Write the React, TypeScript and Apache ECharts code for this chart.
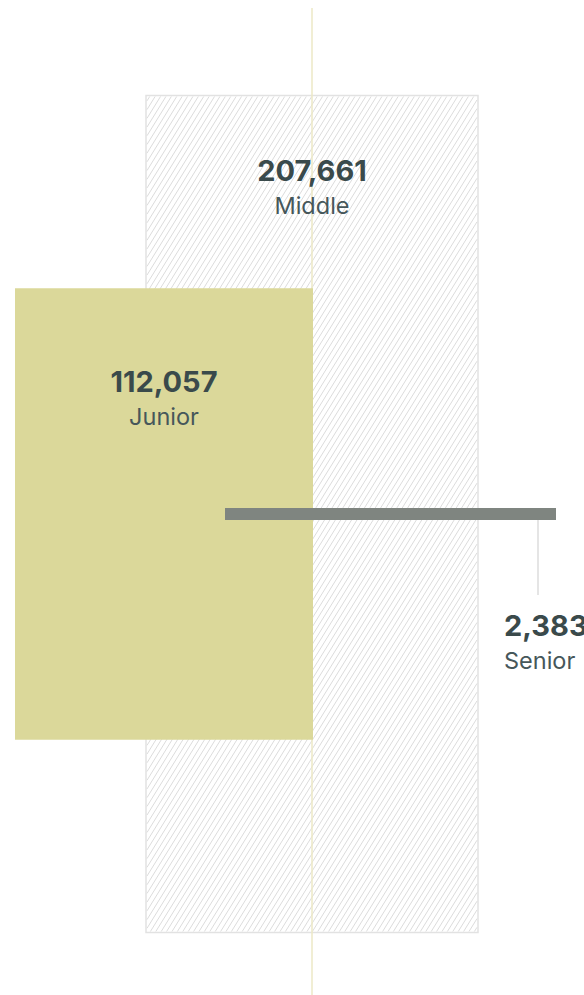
import React, { useEffect, useRef } from "react";
import * as echarts from "echarts";

// Headcount per seniority level
const categories = ["Middle", "Junior", "Senior"];
const headcounts = [207661, 112057, 2383];

// Layout of each block: horizontal span (px), fill, label anchor
const blockSpans: [number, number][] = [
  [146, 478],
  [15, 313],
  [225, 556],
];
const blockFills = ["hatch", "#dbd89a", "#7f8580"];
const labelAnchors = [
  { x: 312, y: 170, align: "center", leader: false },
  { x: 164, y: 381, align: "center", leader: false },
  { x: 504, y: 625, align: "left", leader: true },
];

const VALUE_COLOR = "#3a4a4b";
const NAME_COLOR = "#46575a";
const FONT = "Inter, 'Noto Sans', sans-serif";

function hatchPath(x0: number, y0: number, x1: number, y1: number, k: number, step: number) {
  // lines x + k*y = c, rising to the right
  let d = "";
  const cStart = x0 + k * y0;
  const cEnd = x1 + k * y1;
  for (let c = cStart + step / 2; c < cEnd; c += step) {
    const ya = Math.max(y0, (c - x1) / k);
    const yb = Math.min(y1, (c - x0) / k);
    if (yb <= ya) continue;
    const xa = c - k * ya;
    const xb = c - k * yb;
    d += `M${xa.toFixed(2)} ${ya.toFixed(2)}L${xb.toFixed(2)} ${yb.toFixed(2)}`;
  }
  return d;
}

export default function App() {
  const ref = useRef<HTMLDivElement>(null);

  useEffect(() => {
    if (!ref.current) return;
    const chart = echarts.init(ref.current, undefined, { renderer: "svg" });

    const data = headcounts.map((v, i) => [i, v]);

    const renderItem = (params: any, api: any) => {
      const i = params.dataIndex;
      const value = api.value(1);
      const yTop = api.coord([0, value / 2])[1];
      const yBot = api.coord([0, -value / 2])[1];
      let top = yTop;
      let bot = yBot;
      if (bot - top < 12) {
        const mid = (top + bot) / 2;
        top = mid - 6;
        bot = mid + 6;
      }
      const x0 = api.coord([blockSpans[i][0], 0])[0];
      const x1 = api.coord([blockSpans[i][1], 0])[0];
      const children: any[] = [];
      const fill = blockFills[i];
      if (fill === "hatch") {
        children.push({
          type: "rect",
          shape: { x: x0, y: top, width: x1 - x0, height: bot - top },
          style: { fill: "#ffffff", stroke: "#e2e2e2", lineWidth: 1.5 },
        });
        children.push({
          type: "path",
          shape: { pathData: hatchPath(x0 + 1, top + 1, x1 - 1, bot - 1, 0.62, 5.4) },
          style: { fill: null, stroke: "#dcdcdc", lineWidth: 1 },
        });
        // centre guide through the block
        const cx = (x0 + x1) / 2;
        children.push({
          type: "line",
          shape: { x1: cx, y1: 8, x2: cx, y2: 995 },
          style: { stroke: "#ece8c6", lineWidth: 1.5 },
        });
      } else {
        children.push({
          type: "rect",
          shape: { x: x0, y: top, width: x1 - x0, height: bot - top },
          style: { fill },
        });
      }
      const a = labelAnchors[i];
      if (a.leader) {
        children.push({
          type: "line",
          shape: { x1: 538, y1: bot, x2: 538, y2: 595 },
          style: { stroke: "#dddddd", lineWidth: 1.5 },
        });
      }
      children.push({
        type: "text",
        z2: 10,
        style: {
          x: a.x,
          y: a.y,
          text: headcounts[i].toLocaleString("en-US"),
          fill: VALUE_COLOR,
          font: `700 29px ${FONT}`,
          align: a.align,
          verticalAlign: "middle",
        },
      });
      children.push({
        type: "text",
        z2: 10,
        style: {
          x: a.x,
          y: a.y + 35,
          text: categories[i],
          fill: NAME_COLOR,
          font: `400 23.5px ${FONT}`,
          align: a.align,
          verticalAlign: "middle",
        },
      });
      return { type: "group", children };
    };

    chart.setOption({
      animation: false,
      grid: { left: 0, right: 0, top: 50.5, bottom: 17.5 },
      xAxis: { type: "value", min: 0, max: 584, show: false },
      yAxis: { type: "value", min: -115000, max: 115000, show: false },
      series: [
        {
          type: "custom",
          renderItem,
          data,
          clip: false,
        },
      ],
    });

    return () => chart.dispose();
  }, []);

  return (
    <div
      ref={ref}
      style={{ position: "absolute", left: 0, top: 0, width: 584, height: 995 }}
    />
  );
}
